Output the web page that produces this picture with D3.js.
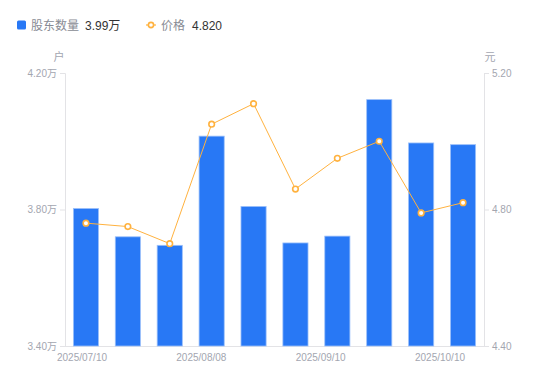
<!DOCTYPE html>
<html><head><meta charset="utf-8">
<script src="https://cdn.jsdelivr.net/npm/d3@7"></script>
<style>
body{margin:0;background:#fff;}
svg{display:block;font-family:"Liberation Sans","Noto Sans CJK SC",sans-serif;}
</style></head>
<body><svg id="c" width="550" height="381"></svg>
<script>
const categories = ["2025/07/10","2025/07/18","2025/07/31","2025/08/08","2025/08/20","2025/08/29","2025/09/10","2025/09/19","2025/09/30","2025/10/10"];
const holders = [3.803, 3.720, 3.695, 4.015, 3.809, 3.702, 3.722, 4.122, 3.995, 3.99];
const prices = [4.76, 4.75, 4.70, 5.05, 5.11, 4.86, 4.95, 5.00, 4.79, 4.82];
const xTickIdx = [0, 3, 6, 9];
const leftTicks = [3.40, 3.80, 4.20];
const rightTicks = [4.40, 4.80, 5.20];

const svg = d3.select("#c");
const L = 65, R = 484, T = 73, B = 346;
const blue = "#2878F5", orange = "#FFB23F", grayText = "#a3a6b0", axisCol = "#e3e3e6";
const numFont = "'Liberation Sans', Arial, 'Noto Sans CJK SC', sans-serif";
const cjkFont = "'Noto Sans CJK SC', sans-serif";

const x = d3.scaleBand().domain(d3.range(categories.length)).range([L, R]).paddingInner(0.4).paddingOuter(0.2);
const yL = d3.scaleLinear().domain([3.40, 4.20]).range([B, T]);
const yR = d3.scaleLinear().domain([4.40, 5.20]).range([B, T]);
const xLab = d3.scaleLinear().domain([0, 9]).range([82, 440]);

// axes
const axL = d3.axisLeft(yL).tickValues(leftTicks).tickSize(5).tickPadding(3).tickFormat(d => d3.format(".2f")(d) + "万");
const gL = svg.append("g").attr("transform", `translate(${L},0)`).call(axL);
const axR = d3.axisRight(yR).tickValues(rightTicks).tickSize(5).tickPadding(3).tickFormat(d3.format(".2f"));
const gR = svg.append("g").attr("transform", `translate(${R},0)`).call(axR);
[gL, gR].forEach(g => {
  g.select(".domain").attr("stroke", axisCol);
  g.selectAll(".tick line").attr("stroke", axisCol);
  g.selectAll(".tick text").attr("fill", grayText).attr("font-size", 10).attr("font-family", numFont);
});
svg.append("line").attr("x1", L).attr("x2", R).attr("y1", B + 0.5).attr("y2", B + 0.5).attr("stroke", axisCol);

// unit labels
svg.append("text").attr("x", 59).attr("y", 61).attr("text-anchor", "middle").attr("fill", grayText).attr("font-size", 11).attr("font-family", cjkFont).text("户");
svg.append("text").attr("x", 490).attr("y", 61).attr("text-anchor", "middle").attr("fill", grayText).attr("font-size", 11).attr("font-family", cjkFont).text("元");

// bars
svg.append("g").selectAll("rect").data(holders).join("rect")
  .attr("x", (d, i) => x(i)).attr("width", x.bandwidth())
  .attr("y", d => yL(d)).attr("height", d => B - yL(d))
  .attr("fill", blue).attr("stroke", "#9cc0fa").attr("stroke-width", 0.8);

// x labels
svg.append("g").selectAll("text").data(xTickIdx).join("text")
  .attr("x", d => xLab(d)).attr("y", 361).attr("text-anchor", "middle")
  .attr("fill", grayText).attr("font-size", 10).attr("font-family", numFont)
  .text(d => categories[d]);

// line
const cx = i => x(i) + x.bandwidth() / 2;
svg.append("path").datum(prices)
  .attr("d", d3.line().x((d, i) => cx(i)).y(d => yR(d)))
  .attr("fill", "none").attr("stroke", orange).attr("stroke-width", 1);
svg.append("g").selectAll("circle").data(prices).join("circle")
  .attr("cx", (d, i) => cx(i)).attr("cy", d => yR(d)).attr("r", 2.8)
  .attr("fill", "#fff").attr("stroke", orange).attr("stroke-width", 1.6);

// legend
const lg = svg.append("g");
lg.append("rect").attr("x", 17).attr("y", 20.5).attr("width", 9).attr("height", 9).attr("rx", 1.5).attr("fill", blue);
lg.append("text").attr("x", 31).attr("y", 29.5).attr("font-size", 12).attr("font-family", cjkFont).attr("fill", "#888b94").text("股东数量");
lg.append("text").attr("x", 85).attr("y", 29.5).attr("font-size", 12).attr("font-family", numFont).attr("fill", "#333").text(d3.format(".2f")(holders[holders.length - 1]) + "万");
lg.append("line").attr("x1", 146).attr("x2", 156).attr("y1", 25).attr("y2", 25).attr("stroke", orange).attr("stroke-width", 1.2);
lg.append("circle").attr("cx", 151).attr("cy", 25).attr("r", 2.6).attr("fill", "#fff").attr("stroke", orange).attr("stroke-width", 1.6);
lg.append("text").attr("x", 161).attr("y", 29.5).attr("font-size", 12).attr("font-family", cjkFont).attr("fill", "#888b94").text("价格");
lg.append("text").attr("x", 192).attr("y", 29.5).attr("font-size", 12).attr("font-family", numFont).attr("fill", "#333").text(d3.format(".3f")(prices[prices.length - 1]));
</script>
</body></html>
